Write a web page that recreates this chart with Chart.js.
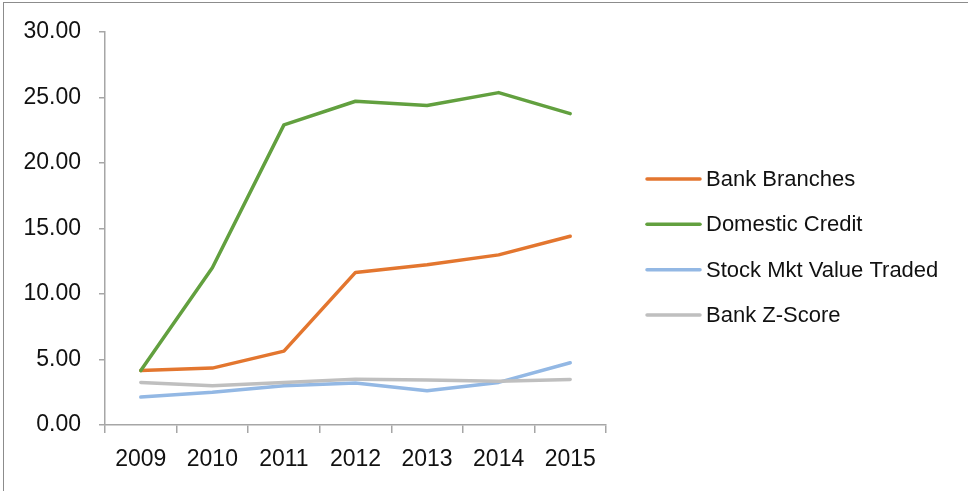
<!DOCTYPE html>
<html>
<head>
<meta charset="utf-8">
<script src="https://cdn.jsdelivr.net/npm/chart.js@4"></script>
<style>
  html, body { margin: 0; padding: 0; background: #fff; overflow: hidden; }
  #wrap { position: relative; width: 968px; height: 491px; overflow: hidden; }
  #frame { position: absolute; left: 3px; top: 2px; width: 980px; height: 500px; border: 1px solid #8c8c8c; pointer-events: none; }
</style>
</head>
<body>
<div id="wrap">
  <canvas id="chart" width="968" height="491"></canvas>
  <div id="frame"></div>
</div>
<script>
// Data
const years = ['2009', '2010', '2011', '2012', '2013', '2014', '2015'];
const bankBranches = [4.15, 4.34, 5.64, 11.64, 12.22, 12.98, 14.40];
const domesticCredit = [4.15, 12.00, 22.90, 24.70, 24.37, 25.36, 23.76];
const stockMktValueTraded = [2.13, 2.49, 3.00, 3.20, 2.61, 3.25, 4.75];
const bankZScore = [3.25, 3.00, 3.25, 3.50, 3.43, 3.33, 3.48];
const seriesNames = ['Bank Branches', 'Domestic Credit', 'Stock Mkt Value Traded', 'Bank Z-Score'];
const seriesColors = ['#E3762F', '#62A03F', '#93B8E4', '#BFBFBF'];

const FONT = '"Liberation Sans", Arial, sans-serif';
const axisColor = '#A6A6A6';

// Excel-like legend on the right: short line + label
const sideLegend = {
    id: 'sideLegend',
    afterDraw(chart) {
        const ctx = chart.ctx;
        const area = chart.chartArea;
        const x0 = area.right + 41;
        const rowGap = 45.3;
        const n = chart.data.datasets.length;
        const midY = 247;
        const startY = midY - (n - 1) * rowGap / 2;

        ctx.save();
        ctx.font = '22px ' + FONT;
        ctx.textBaseline = 'middle';
        ctx.textAlign = 'left';
        chart.data.datasets.forEach((ds, i) => {
            const y = startY + i * rowGap;
            ctx.strokeStyle = ds.borderColor;
            ctx.lineWidth = 3.5;
            ctx.lineCap = 'round';
            ctx.beginPath();
            ctx.moveTo(x0, y);
            ctx.lineTo(x0 + 53, y);
            ctx.stroke();
            ctx.fillStyle = '#111';
            ctx.fillText(ds.label, x0 + 59, y + 1);
        });
        ctx.restore();
    }
};

const allSeries = [bankBranches, domesticCredit, stockMktValueTraded, bankZScore];

new Chart(document.getElementById('chart'), {
    type: 'line',
    data: {
        labels: years,
        datasets: allSeries.map((values, i) => ({
            label: seriesNames[i],
            data: values,
            borderColor: seriesColors[i],
            backgroundColor: seriesColors[i],
            borderWidth: 3.5,
            borderJoinStyle: 'round',
            borderCapStyle: 'round',
            pointRadius: 0,
            tension: 0,
            fill: false,
            order: allSeries.length - i
        }))
    },
    options: {
        responsive: false,
        animation: false,
        devicePixelRatio: 1,
        layout: {
            padding: { left: 18, right: 362, top: 24, bottom: 0 }
        },
        plugins: {
            legend: { display: false },
            tooltip: { enabled: false }
        },
        scales: {
            x: {
                offset: true,
                grid: {
                    offset: true,
                    drawOnChartArea: false,
                    drawTicks: true,
                    tickLength: 8,
                    color: axisColor,
                    lineWidth: 1.5
                },
                border: { color: axisColor, width: 1.5 },
                ticks: {
                    color: '#111',
                    font: { family: FONT, size: 23 },
                    padding: 13,
                    maxRotation: 0
                },
                afterFit(scale) { scale.height = 66; }
            },
            y: {
                min: 0,
                max: 30,
                grid: {
                    drawOnChartArea: false,
                    drawTicks: true,
                    tickLength: 6,
                    color: axisColor,
                    lineWidth: 1.5
                },
                border: { color: axisColor, width: 1.5 },
                ticks: {
                    stepSize: 5,
                    color: '#111',
                    font: { family: FONT, size: 23 },
                    padding: 18,
                    callback: v => v.toFixed(2)
                },
                afterFit(scale) { scale.width = 87; }
            }
        }
    },
    plugins: [sideLegend]
});
</script>
</body>
</html>
